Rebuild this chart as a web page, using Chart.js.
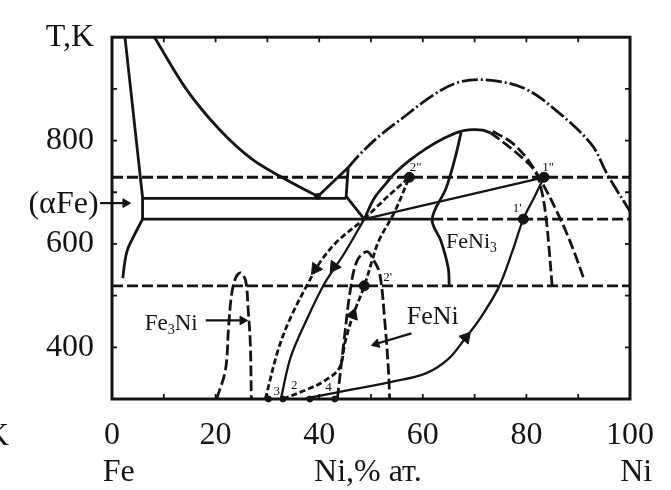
<!DOCTYPE html>
<html>
<head>
<meta charset="utf-8">
<script src="https://cdn.jsdelivr.net/npm/chart.js@4"></script>
<style>
  html, body { margin: 0; padding: 0; background: #fff; }
  #wrap { width: 671px; height: 490px; }
</style>
</head>
<body>
<div id="wrap"><canvas id="phaseChart" width="671" height="490"></canvas></div>
<script>
// Fe-Ni diagram: x = Ni, % at., y = T, K. Points are [Ni, T] pairs.
const xTicks = [0, 20, 40, 60, 80, 100];
const yTicks = [400, 600, 800];

// horizontal levels
const levelTop = [[0, 729], [100, 729]];
const levelAlpha = [[5.9, 688], [45.2, 688]];
const levelMidSolid = [[5.9, 648], [61.8, 648]];
const levelMidDash = [[61.8, 648], [100, 648]];
const levelLow = [[0, 519], [100, 519]];

// solid phase boundaries
const alphaUpper = [[2.5, 1000], [5.9, 690], [5.9, 648]];
const alphaLower = [[5.9, 648], [4.4, 619], [3.1, 592], [2.5, 567], [2.1, 534]];
const gammaLine = [[8.2, 1000], [14.3, 900], [20.6, 823], [26.9, 765], [32.6, 730], [39.7, 692]];
const vRight = [[39.7, 692], [45.6, 748]];
const triSide = [[45.6, 748], [45.2, 692], [48.7, 648]];
const feNi3Left = [[48.7, 648], [50.6, 688], [53, 718], [54.4, 735], [57.5, 762], [60.7, 785], [64, 804], [67, 817], [69.7, 821], [71.5, 820], [73.1, 815]];
const feNi3Inner = [[67.4, 816], [66.2, 765], [64.5, 708], [61.8, 648], [63.5, 606], [64.9, 554], [65.1, 519]];
const tieLine = [[48.7, 648], [83.4, 729]];

// dashed / dash-dot boundaries
const spinodalDome = [[45.6, 748], [48, 775], [51.5, 808], [55.9, 842], [62, 888], [67, 913], [72.7, 917], [79.8, 900], [86, 856], [92.6, 792], [95.6, 735], [100, 663]];
const feNi3RightIn = [[73.1, 815], [75.4, 798], [78.8, 770], [81.7, 740], [83, 700], [83.8, 650], [84.3, 600], [85, 515]];
const feNi3RightOut = [[73.5, 818], [77.3, 795], [80.5, 760], [83.6, 708], [86, 660], [87.6, 625], [89.4, 580], [91.2, 529]];
const fe3NiDome = [[20.2, 300], [21.9, 356], [22.5, 438], [23.1, 503], [23.9, 535], [24.8, 544], [25.8, 529], [26.3, 471], [26.7, 408], [26.9, 300]];
const feNiDome = [[43.5, 300], [44.8, 413], [46, 510], [47.3, 567], [49.2, 585], [50.6, 567], [51.7, 542], [52.7, 446], [53.4, 350], [53.6, 300]];

// paths 1-3
const path1 = [[37.4, 301], [43, 312], [48.3, 322], [54, 333], [60.7, 350], [65, 378], [68.3, 419], [70.8, 452], [74.6, 515], [77.3, 586], [79.4, 648], [81.5, 690], [83.4, 729]];
const path2 = [[33, 300], [37.8, 319], [41, 335], [43.9, 360], [45, 410], [46.4, 458], [48.7, 519], [50.2, 567], [51.5, 606], [54.6, 663], [57.4, 729]];
const path3 = [[29.6, 300], [32.1, 396], [34.5, 458], [37.8, 523], [40.2, 565], [43.5, 605], [48.7, 648]];
const path3Top = [[48.7, 648], [53, 690], [57.4, 729]];
const solidRise = [[32.6, 300], [34.5, 381], [37.8, 458], [41, 523], [44.8, 581], [48.7, 648]];

const bigDots = [[83.4, 729], [79.4, 648], [57.4, 729], [48.7, 519]];
const smallDots = [[30.2, 300], [33, 300], [38.2, 300], [43, 300], [39.7, 692]];
const arrowHeads = [[39.3, 552], [42.9, 556], [46.5, 463], [68.3, 419]];
const arrowTurns = [215, 215, 20, 40];

// label pointers
const alphaPointer = [[-2.3, 679], [3.4, 679]];
const fe3NiPointer = [[18.1, 452], [25.8, 452]];
const feNiPointer = [[57.8, 427], [50.4, 405]];
const pointerHeads = [[2.6, 679], [25.2, 452], [51, 406.5]];
const pointerTurns = [90, 90, 253];

const INK = '#141414';
const SERIF = '"Liberation Serif", "DejaVu Serif", serif';

function curve(points, opts = {}) {
  return {
    data: points.map(([x, y]) => ({ x, y })),
    showLine: true,
    borderColor: INK,
    borderWidth: opts.width || 2.8,
    borderDash: opts.dash || [],
    tension: opts.tension ?? 0.35,
    pointRadius: 0,
    clip: opts.clip ?? undefined,
  };
}

function marks(points, opts) {
  return {
    data: points.map(([x, y]) => ({ x, y })),
    showLine: false,
    pointRadius: opts.r,
    pointStyle: opts.style || 'circle',
    rotation: opts.rot || 0,
    backgroundColor: INK,
    borderColor: INK,
    borderWidth: 1,
    clip: false,
  };
}

const DASH = [11, 4];
const SHORT = [6, 3];
const DASHDOT = [16, 3, 2, 3];

const datasets = [
  curve(levelTop, { dash: DASH, tension: 0 }),
  curve(levelAlpha, { tension: 0 }),
  curve(levelMidSolid, { tension: 0 }),
  curve(levelMidDash, { dash: DASH, tension: 0 }),
  curve(levelLow, { dash: DASH, tension: 0 }),
  curve(alphaUpper, { tension: 0 }),
  curve(alphaLower),
  curve(gammaLine),
  curve(vRight, { tension: 0 }),
  curve(triSide, { tension: 0 }),
  curve(feNi3Left),
  curve(feNi3Inner),
  curve(tieLine, { tension: 0, width: 2.3 }),
  curve(spinodalDome, { dash: DASHDOT }),
  curve(feNi3RightIn, { dash: DASH }),
  curve(feNi3RightOut, { dash: DASH }),
  curve(fe3NiDome, { dash: DASH }),
  curve(feNiDome, { dash: DASH }),
  curve(path1, { width: 2.3 }),
  curve(path2, { dash: SHORT, width: 2.8 }),
  curve(path3, { dash: SHORT }),
  curve(path3Top, { dash: SHORT, tension: 0 }),
  curve(solidRise, { width: 2.3 }),
  curve(alphaPointer, { tension: 0, width: 2.2, clip: false }),
  curve(fe3NiPointer, { tension: 0, width: 2.2 }),
  curve(feNiPointer, { tension: 0, width: 2.2 }),
  marks(bigDots, { r: 5 }),
  marks(smallDots, { r: 3 }),
  marks(arrowHeads, { r: 7, style: 'triangle', rot: arrowTurns }),
  marks(pointerHeads, { r: 5, style: 'triangle', rot: pointerTurns }),
];

// frame with inward ticks on all four sides
const framePlugin = {
  id: 'frame',
  afterDatasetsDraw(chart) {
    const { ctx, chartArea: a, scales: { x, y } } = chart;
    ctx.save();
    ctx.strokeStyle = INK;
    ctx.lineWidth = 3;
    ctx.strokeRect(a.left, a.top, a.right - a.left, a.bottom - a.top);
    ctx.lineWidth = 1.8;
    ctx.beginPath();
    x.ticks.forEach(t => {
      const px = x.getPixelForValue(t.value);
      ctx.moveTo(px, a.bottom); ctx.lineTo(px, a.bottom - 5);
      ctx.moveTo(px, a.top); ctx.lineTo(px, a.top + 5);
    });
    y.ticks.forEach(t => {
      const py = y.getPixelForValue(t.value);
      ctx.moveTo(a.left, py); ctx.lineTo(a.left + 5, py);
      ctx.moveTo(a.right, py); ctx.lineTo(a.right - 5, py);
    });
    ctx.stroke();
    ctx.restore();
  }
};

function chem(ctx, parts, x, y, size) {
  let cx = x;
  parts.forEach(([s, sub]) => {
    ctx.font = (sub ? size * 0.62 : size) + 'px ' + SERIF;
    ctx.fillText(s, cx, y + (sub ? size * 0.18 : 0));
    cx += ctx.measureText(s).width;
  });
}

const labelPlugin = {
  id: 'labels',
  afterDraw(chart) {
    const { ctx, chartArea: a, scales: { x, y } } = chart;
    const X = v => x.getPixelForValue(v);
    const Y = v => y.getPixelForValue(v);
    ctx.save();
    ctx.fillStyle = INK;

    ctx.textAlign = 'right';
    ctx.font = '32px ' + SERIF;
    ctx.textBaseline = 'middle';
    ctx.fillText('(\u03b1Fe)', X(-2.6), Y(679) + 1);
    ctx.textBaseline = 'alphabetic';

    ctx.textAlign = 'left';
    chem(ctx, [['Fe', false], ['3', true], ['Ni', false]], X(6.3), Y(433), 23);
    chem(ctx, [['FeNi', false], ['3', true]], X(64.5), Y(592), 22);
    chem(ctx, [['FeNi', false]], X(56.9), Y(446), 26);

    ctx.font = '13px ' + SERIF;
    ctx.textAlign = 'center';
    ctx.fillText('1"', X(84.2), Y(742));
    ctx.fillText("1'", X(78.2), Y(662));
    ctx.fillText('2"', X(58.6), Y(742));
    ctx.fillText("2'", X(53.2), Y(528));
    ctx.fillText('3', X(31.8), Y(307));
    ctx.fillText('2', X(35.2), Y(320));
    ctx.fillText('4', X(41.8), Y(316));

    ctx.font = '32px ' + SERIF;
    const base = a.bottom + 82;
    ctx.fillText('Fe', X(1.3), base);
    ctx.fillText('Ni,% \u0430\u0442.', X(49.4), base);
    ctx.fillText('Ni', X(101.2), base);
    ctx.textAlign = 'right';
    ctx.fillText('K', 9, a.bottom + 46);
    ctx.restore();
  }
};

new Chart(document.getElementById('phaseChart').getContext('2d'), {
  type: 'scatter',
  data: { datasets },
  options: {
    responsive: false,
    animation: false,
    devicePixelRatio: 1,
    layout: { padding: { left: 0, right: 35, top: 35, bottom: 0 } },
    plugins: { legend: { display: false }, tooltip: { enabled: false } },
    scales: {
      x: {
        type: 'linear', min: 0, max: 100,
        grid: { display: false, drawTicks: false },
        border: { display: false },
        afterFit: s => { s.height = 91; },
        ticks: {
          stepSize: 10, autoSkip: false, maxRotation: 0, padding: 17,
          color: INK, font: { family: SERIF, size: 32 },
          callback: v => (xTicks.includes(v) ? String(v) : ''),
        },
      },
      y: {
        type: 'linear', min: 300, max: 1000,
        grid: { display: false, drawTicks: false },
        border: { display: false },
        afterFit: s => { s.width = 112; },
        ticks: {
          stepSize: 100, autoSkip: false, padding: 18,
          color: INK, font: { family: SERIF, size: 32 },
          callback: v => (v === 1000 ? 'T,K' : yTicks.includes(v) ? String(v) : ''),
        },
      },
    },
  },
  plugins: [framePlugin, labelPlugin],
});
</script>
</body>
</html>
